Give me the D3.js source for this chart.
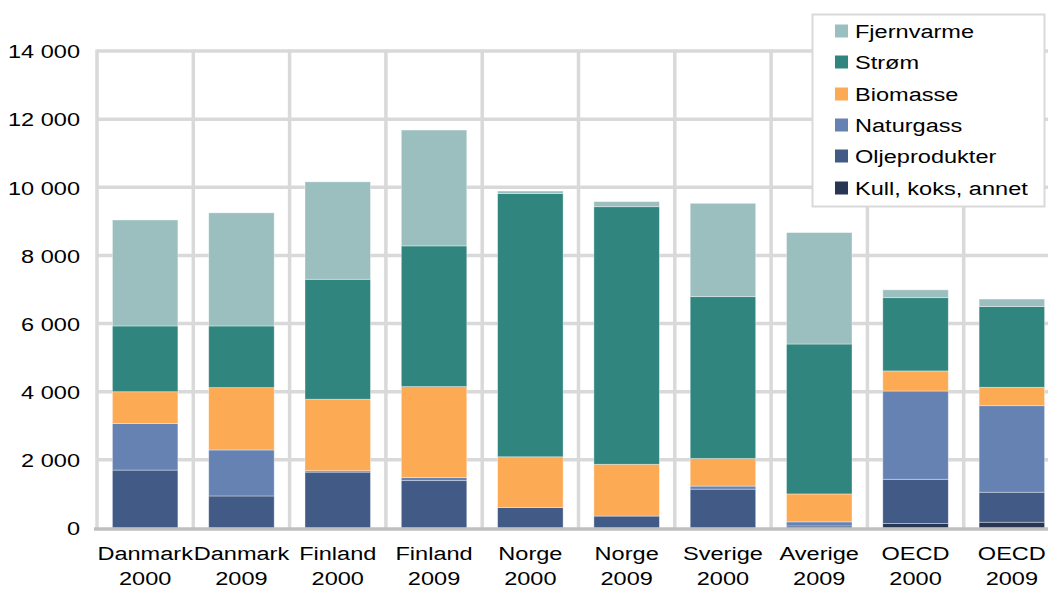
<!DOCTYPE html>
<html><head><meta charset="utf-8">
<script src="https://cdn.jsdelivr.net/npm/d3@7"></script>
<style>
html,body{margin:0;padding:0;background:#fff;}
svg{display:block;font-family:"Liberation Sans",Arial,sans-serif;}
</style></head>
<body>
<svg id="chart" width="1048" height="590"></svg>
<script>
const categories = ["Danmark 2000","Danmark 2009","Finland 2000","Finland 2009","Norge 2000","Norge 2009","Sverige 2000","Averige 2009","OECD 2000","OECD 2009"];
const seriesNames = ["Kull, koks, annet","Oljeprodukter","Naturgass","Biomasse","Strøm","Fjernvarme"];
const kull  = [0,0,0,0,0,0,0,0,130,170];
const olje  = [1700,940,1640,1390,600,350,1140,60,1300,880];
const gass  = [1370,1350,40,90,0,0,90,120,2590,2540];
const bio   = [930,1830,2100,2670,1490,1520,810,820,590,540];
const strom = [1930,1810,3520,4130,7730,7560,4750,4400,2150,2370];
const fjern = [3110,3320,2860,3400,70,150,2740,3270,230,220];
const yTicks = [0,2000,4000,6000,8000,10000,12000,14000];
const colors = ["#283654","#415a86","#6682b3","#fdaa55","#31857f","#9bbfbf"];

(function(){
const svg = d3.select("#chart");
const mLeft = 97, mRight = 1060, mTop = 51, mBottom = 528;
const SX = 1.24, FS = 19;

const data = categories.map((c,i)=>({cat:c,
  "Kull, koks, annet":kull[i],"Oljeprodukter":olje[i],"Naturgass":gass[i],
  "Biomasse":bio[i],"Strøm":strom[i],"Fjernvarme":fjern[i]}));

const x = d3.scaleBand().domain(categories).range([mLeft,mRight]).paddingInner(0.32).paddingOuter(0.16);
const y = d3.scaleLinear().domain([0,14000]).range([mBottom,mTop]);
const color = d3.scaleOrdinal().domain(seriesNames).range(colors);

// gridlines
const grid = svg.append("g");
grid.selectAll("line.h").data(yTicks.filter(d=>d>0)).join("line")
  .attr("x1",mLeft).attr("x2",mRight).attr("y1",d=>y(d)).attr("y2",d=>y(d))
  .attr("stroke","#d9d9d9").attr("stroke-width",3.5);
const step = x.step();
grid.selectAll("line.v").data(d3.range(categories.length+1)).join("line")
  .attr("x1",d=>mLeft+d*step).attr("x2",d=>mLeft+d*step).attr("y1",mTop-1.5).attr("y2",mBottom)
  .attr("stroke","#d9d9d9").attr("stroke-width",3.5);

// bars
const stack = d3.stack().keys(seriesNames)(data);
svg.append("g").selectAll("g").data(stack).join("g")
  .attr("fill",d=>color(d.key))
  .selectAll("rect").data(d=>d).join("rect")
  .attr("x",d=>x(d.data.cat)).attr("width",x.bandwidth())
  .attr("y",d=>y(d[1])).attr("height",d=>Math.max(0,y(d[0])-y(d[1])))
  .attr("stroke","rgba(255,255,255,0.45)").attr("stroke-width",0.8);

// bottom axis line
svg.append("line").attr("x1",mLeft-3).attr("x2",mRight).attr("y1",mBottom+1).attr("y2",mBottom+1)
  .attr("stroke","#bfbfbf").attr("stroke-width",3.5);

// y axis
const fmt = d => d3.format(",")(d).replace(/,/g," ");
const yAxis = svg.append("g").attr("transform",`translate(${mLeft},0)`)
  .call(d3.axisLeft(y).tickValues(yTicks).tickFormat(fmt).tickSize(0).tickPadding(0));
yAxis.select(".domain").remove();
yAxis.selectAll("text").attr("font-size",FS).attr("font-family","Liberation Sans, Arial, sans-serif")
  .attr("fill","#000").attr("x",-17/SX).attr("transform",`scale(${SX},1)`).attr("dy","0.36em");

// x axis
const xAxis = svg.append("g").attr("transform",`translate(0,${mBottom})`)
  .call(d3.axisBottom(x).tickSize(0));
xAxis.select(".domain").remove();
xAxis.selectAll("text").each(function(d){
  const parts = d.split(" ");
  const t = d3.select(this).text(null).attr("y",0).attr("dy",null)
    .attr("font-size",FS).attr("font-family","Liberation Sans, Arial, sans-serif").attr("fill","#000")
    .attr("transform",`scale(${SX},1)`);
  t.append("tspan").attr("x",0).attr("y",32).text(parts[0]);
  t.append("tspan").attr("x",0).attr("y",57).text(parts[1]);
});

// legend
const lg = svg.append("g");
lg.append("rect").attr("x",812.5).attr("y",14.5).attr("width",232).attr("height",192)
  .attr("fill","#fff").attr("stroke","#d9d9d9").attr("stroke-width",2);
const legendOrder = seriesNames.slice().reverse();
const rowY = [31,62,94,125,156,188];
const items = lg.selectAll("g.item").data(legendOrder).join("g")
  .attr("transform",(d,i)=>`translate(835,${rowY[i]})`);
items.append("rect").attr("x",0).attr("y",-6.5).attr("width",13).attr("height",13).attr("fill",d=>color(d));
items.append("text").attr("x",20/SX).attr("y",0).attr("dy","0.35em")
  .attr("transform",`scale(${SX},1)`).attr("font-size",FS).attr("fill","#000").text(d=>d);
})();
</script>
</body></html>
